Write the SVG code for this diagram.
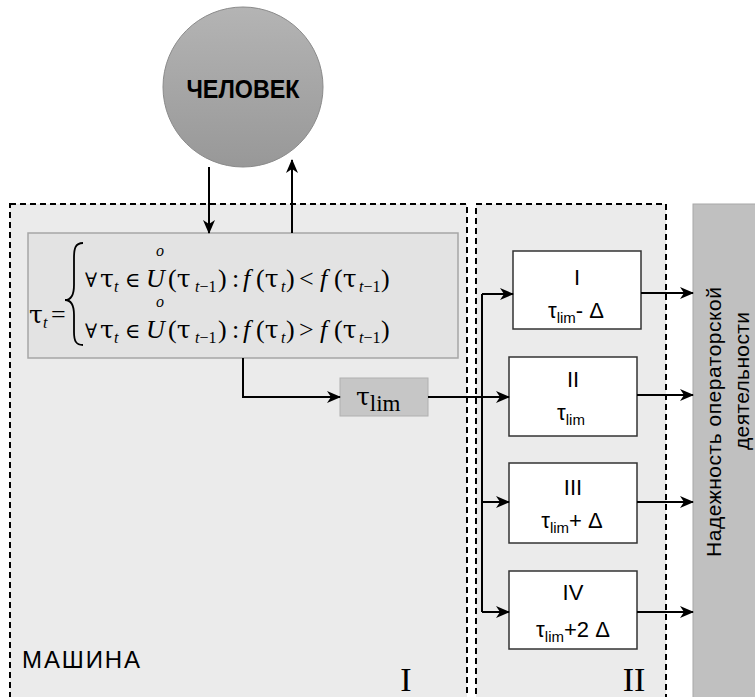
<svg xmlns="http://www.w3.org/2000/svg" width="755" height="697" viewBox="0 0 755 697">
<style>
.zone{fill:#ebebeb;stroke:#000;stroke-width:2;stroke-dasharray:6 4}
.box{fill:#fff;stroke:#333;stroke-width:1.5}
.con{fill:none;stroke:#000;stroke-width:2}
.m{font-family:"Liberation Serif","DejaVu Serif",serif;font-size:26px;fill:#000}
.g{font-family:"DejaVu Serif",serif;font-size:25px}
.e{font-family:"DejaVu Serif",serif;font-size:21px}
.a{font-family:"DejaVu Serif",serif;font-size:20px}
.i{font-style:italic}
.s{font-size:16px}
.sans{font-family:"Liberation Sans","DejaVu Sans",sans-serif;fill:#000}
.lbl{font-family:"Liberation Sans","DejaVu Sans",sans-serif;font-size:22px;text-anchor:middle;fill:#000}
.roman{font-family:"Liberation Serif","DejaVu Serif",serif;font-size:34px;fill:#000;text-anchor:middle}
</style>
<defs>
<marker id="ah" markerUnits="userSpaceOnUse" markerWidth="14" markerHeight="12" refX="13" refY="6" orient="auto">
<path d="M0,0 L14,6 L0,12 L4,6 z" fill="#000"/>
</marker>
<linearGradient id="cg" x1="0" y1="0" x2="0" y2="1">
<stop offset="0" stop-color="#b4b4b4"/>
<stop offset="1" stop-color="#989898"/>
</linearGradient>
</defs>
<rect width="755" height="697" fill="#fff"/>

<g id="zone-I">
<rect class="zone" x="10" y="204" width="457" height="500"/>
<text class="sans" x="22" y="668" font-size="24" textLength="118">МАШИНА</text>
<text class="roman" x="406" y="691">I</text>
</g>
<g id="zone-II">
<rect class="zone" x="476" y="204" width="190" height="500"/>
<text class="roman" x="634" y="691">II</text>
</g>

<g id="human">
<circle cx="243" cy="87" r="80" fill="url(#cg)" stroke="#8a8a8a" stroke-width="1"/>
<text class="sans" x="243" y="98" font-size="25" font-weight="bold" text-anchor="middle" textLength="113" lengthAdjust="spacingAndGlyphs">ЧЕЛОВЕК</text>
</g>

<g id="formula">
<rect x="28" y="233" width="430" height="125" fill="#e3e3e3" stroke="#a6a6a6" stroke-width="1.5"/>
<text class="m g" x="29" y="323">τ</text>
<text class="m i s" x="43" y="328">t</text>
<text class="m" x="51" y="323">=</text>
<path d="M83,243 C75,243 74,249 74,258 L74,285 C74,295 71,300 65,300 C71,300 74,305 74,315 L74,332 C74,341 76,345 83,345" fill="none" stroke="#000" stroke-width="1.8"/>
<g id="line1">
<text class="m a" x="85" y="287">∀</text>
<text class="m g" x="100" y="287">τ</text>
<text class="m i s" x="114" y="292">t</text>
<text class="m e" x="125" y="287">∈</text>
<text class="m i" x="146" y="287">U</text>
<text class="m i s" x="156" y="256">o</text>
<text class="m" x="168" y="287">(<tspan class="g">τ</tspan></text>
<text class="m s" x="195" y="292"><tspan class="i">t</tspan>−1</text>
<text class="m" x="218" y="287">)</text>
<text class="m" x="232" y="287">:</text>
<text class="m i" x="243" y="287">f</text>
<text class="m" x="256" y="287">(<tspan class="g">τ</tspan></text>
<text class="m i s" x="281" y="292">t</text>
<text class="m" x="286" y="287">)</text>
<text class="m" x="299" y="287">&lt;</text>
<text class="m i" x="320" y="287">f</text>
<text class="m" x="334" y="287">(<tspan class="g">τ</tspan></text>
<text class="m s" x="359" y="292"><tspan class="i">t</tspan>−1</text>
<text class="m" x="381" y="287">)</text>
</g>
<g id="line2">
<text class="m a" x="85" y="338">∀</text>
<text class="m g" x="100" y="338">τ</text>
<text class="m i s" x="114" y="343">t</text>
<text class="m e" x="125" y="338">∈</text>
<text class="m i" x="146" y="338">U</text>
<text class="m i s" x="156" y="307">o</text>
<text class="m" x="168" y="338">(<tspan class="g">τ</tspan></text>
<text class="m s" x="195" y="343"><tspan class="i">t</tspan>−1</text>
<text class="m" x="218" y="338">)</text>
<text class="m" x="232" y="338">:</text>
<text class="m i" x="243" y="338">f</text>
<text class="m" x="256" y="338">(<tspan class="g">τ</tspan></text>
<text class="m i s" x="281" y="343">t</text>
<text class="m" x="286" y="338">)</text>
<text class="m" x="299" y="338">&gt;</text>
<text class="m i" x="320" y="338">f</text>
<text class="m" x="334" y="338">(<tspan class="g">τ</tspan></text>
<text class="m s" x="359" y="343"><tspan class="i">t</tspan>−1</text>
<text class="m" x="381" y="338">)</text>
</g>
</g>

<g id="tau-lim">
<rect x="340" y="378" width="88" height="38" fill="#c6c6c6" stroke="#b0b0b0" stroke-width="1"/>
<text class="m" x="356" y="405"><tspan class="g" font-size="24">τ</tspan><tspan font-size="23" dy="6">lim</tspan></text>
</g>

<g id="box-I">
<rect class="box" x="513" y="251" width="128" height="78"/>
<text class="lbl" x="577" y="285">I</text>
<text class="lbl" x="576" y="318">τ<tspan font-size="15" dy="5">lim</tspan><tspan dy="-5">- Δ</tspan></text>
</g>
<g id="box-II">
<rect class="box" x="509" y="357" width="128" height="79"/>
<text class="lbl" x="573" y="387">II</text>
<text class="lbl" x="571" y="420">τ<tspan font-size="15" dy="5">lim</tspan></text>
</g>
<g id="box-III">
<rect class="box" x="509" y="463" width="128" height="80"/>
<text class="lbl" x="573" y="495">III</text>
<text class="lbl" x="572" y="528">τ<tspan font-size="15" dy="5">lim</tspan><tspan dy="-5">+ Δ</tspan></text>
</g>
<g id="box-IV">
<rect class="box" x="509" y="571" width="128" height="78"/>
<text class="lbl" x="573" y="600">IV</text>
<text class="lbl" x="573" y="637">τ<tspan font-size="15" dy="5">lim</tspan><tspan dy="-5">+2 Δ</tspan></text>
</g>

<g id="reliability">
<rect x="693" y="204" width="66" height="500" fill="#c0c0c0" stroke="#a8a8a8" stroke-width="1"/>
<text class="sans" font-size="21" text-anchor="middle" transform="translate(721,422) rotate(-90)" textLength="270">Надежность операторской</text>
<text class="sans" font-size="21" text-anchor="middle" transform="translate(749,381) rotate(-90)" textLength="138">деятельности</text>
</g>

<g id="connectors">
<line class="con" x1="209" y1="167" x2="209" y2="233" marker-end="url(#ah)"/>
<line class="con" x1="292" y1="233" x2="292" y2="160" marker-end="url(#ah)"/>
<path class="con" d="M243,358 V397 H340" marker-end="url(#ah)"/>
<line class="con" x1="428" y1="397" x2="509" y2="397" marker-end="url(#ah)"/>
<path class="con" d="M482,294 V612"/>
<line class="con" x1="482" y1="294" x2="513" y2="294" marker-end="url(#ah)"/>
<line class="con" x1="482" y1="502" x2="509" y2="502" marker-end="url(#ah)"/>
<line class="con" x1="482" y1="612" x2="509" y2="612" marker-end="url(#ah)"/>
<line class="con" x1="641" y1="293" x2="693" y2="293" marker-end="url(#ah)"/>
<line class="con" x1="637" y1="395" x2="693" y2="395" marker-end="url(#ah)"/>
<line class="con" x1="637" y1="502" x2="693" y2="502" marker-end="url(#ah)"/>
<line class="con" x1="637" y1="612" x2="693" y2="612" marker-end="url(#ah)"/>
</g>
</svg>
